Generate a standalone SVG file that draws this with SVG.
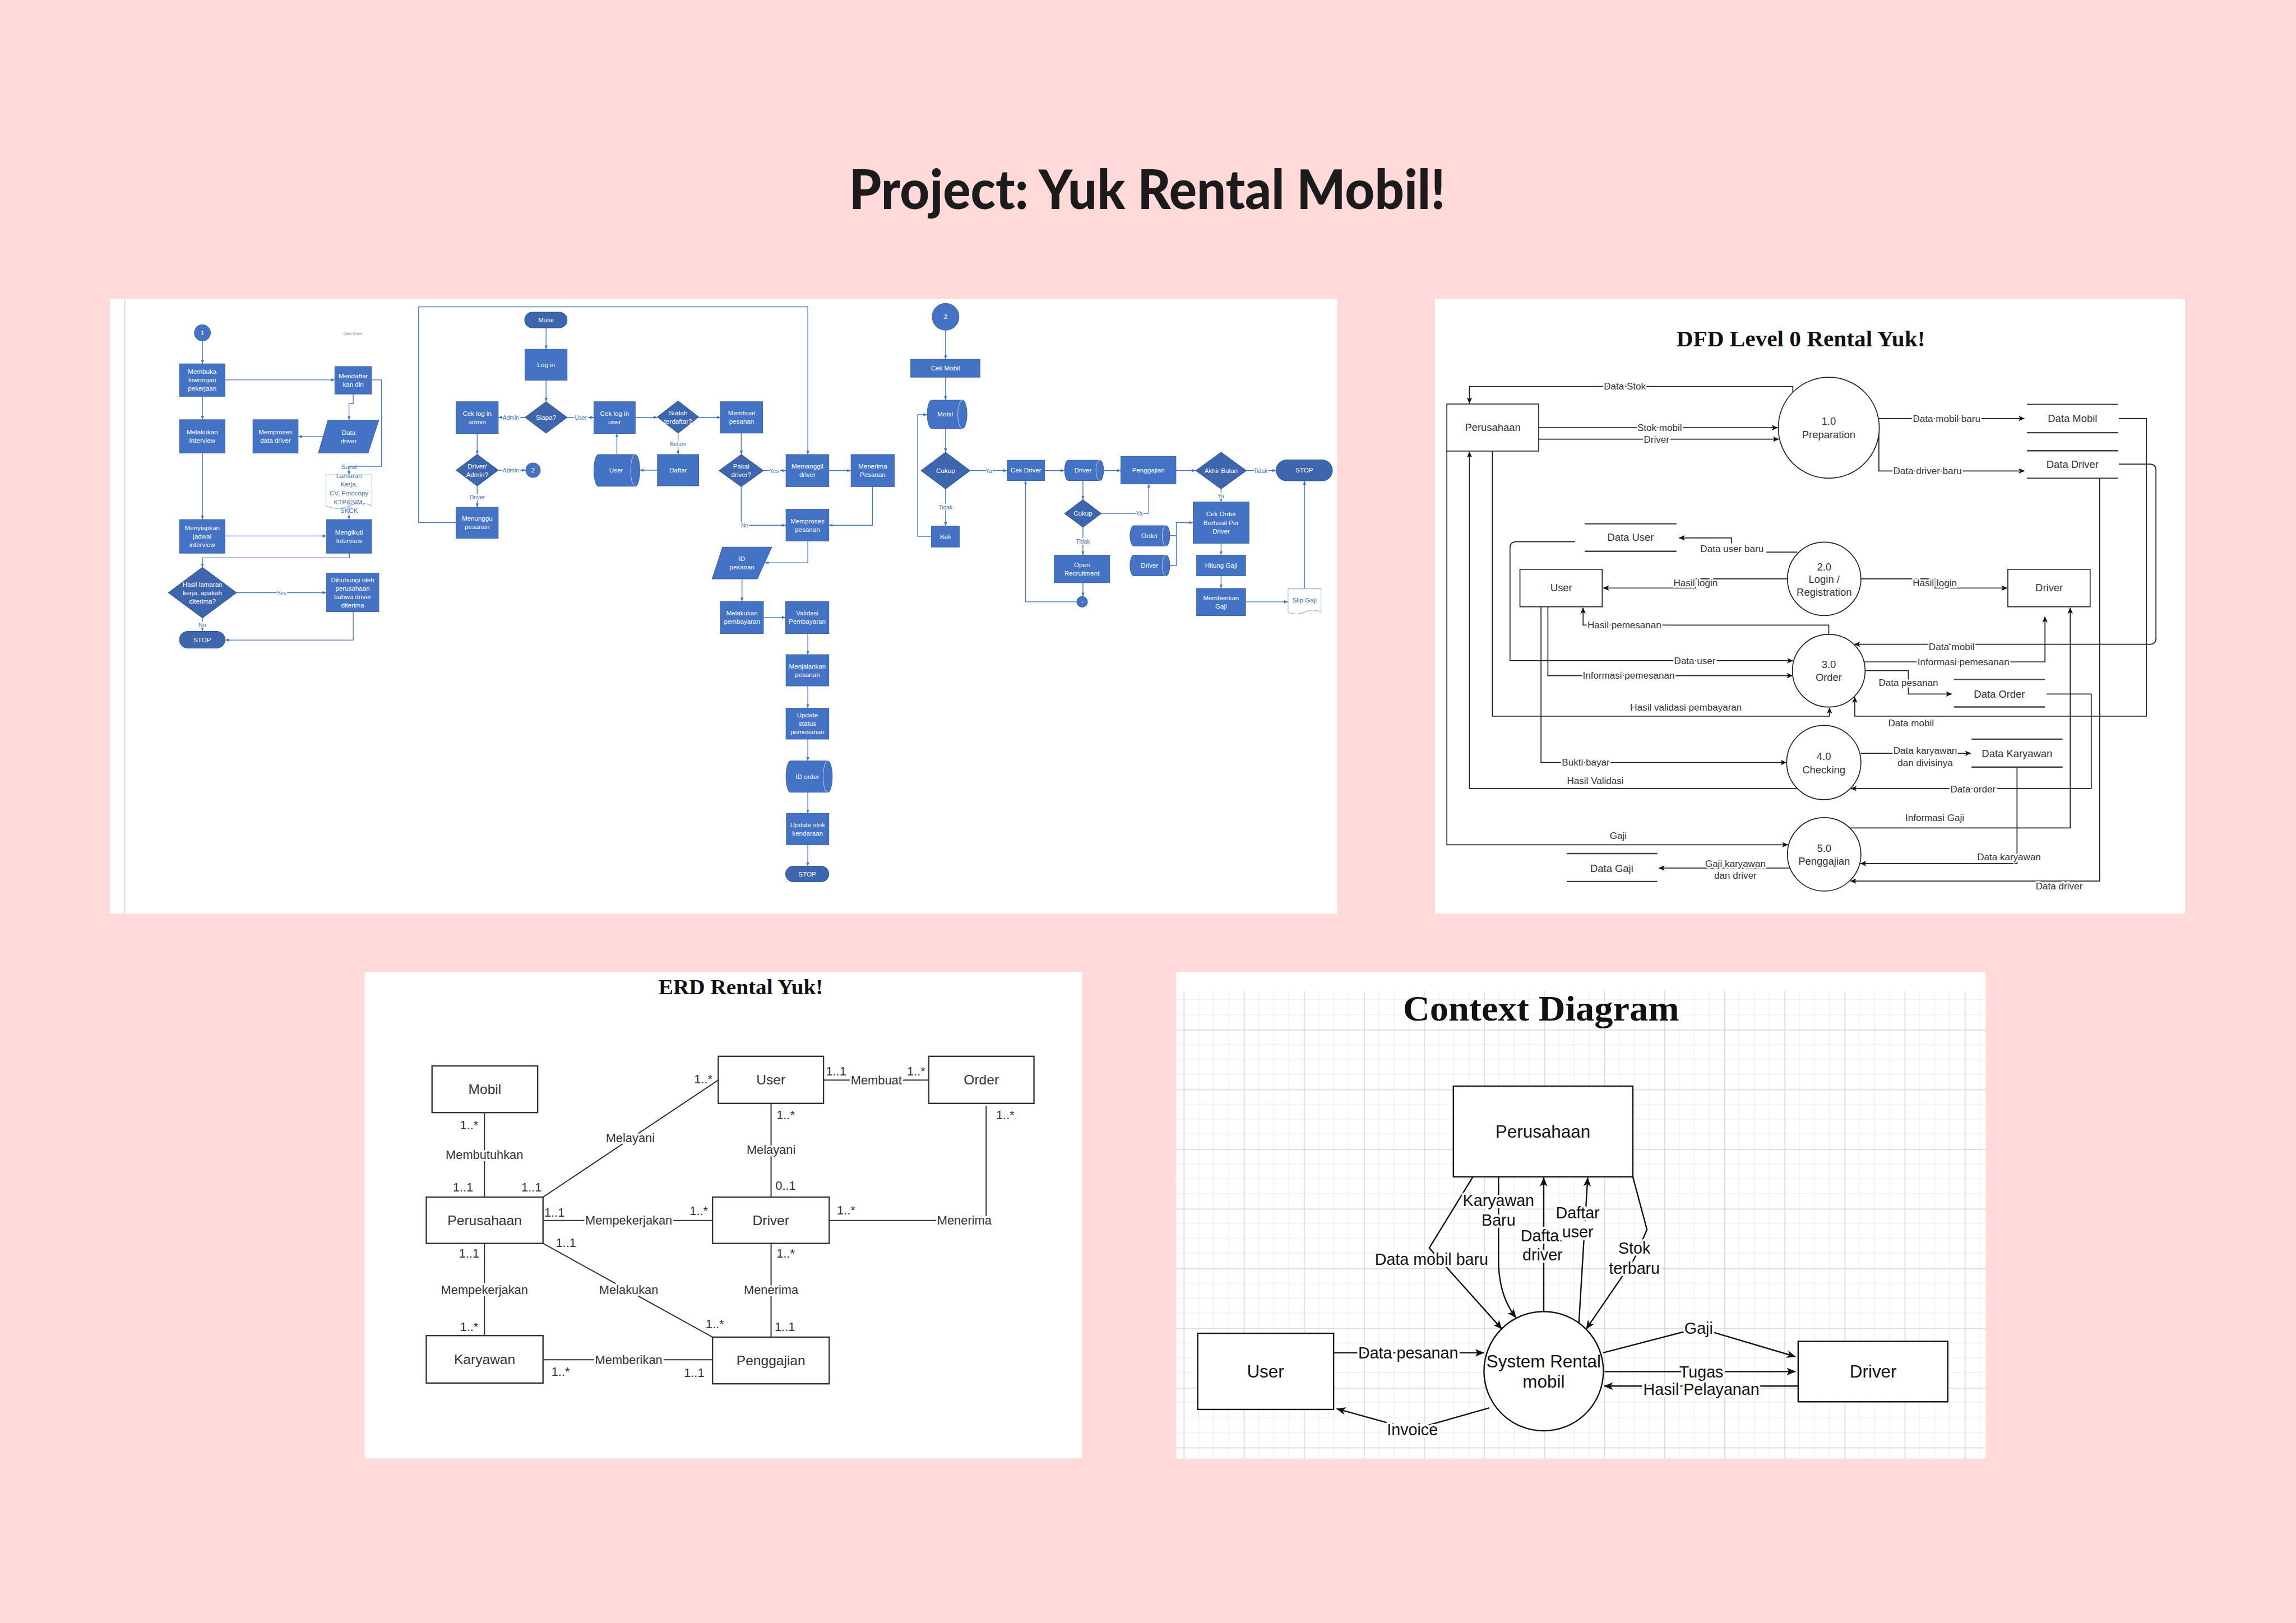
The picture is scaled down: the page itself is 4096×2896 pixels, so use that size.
<svg xmlns="http://www.w3.org/2000/svg" width="4096" height="2896" viewBox="0 0 4096 2896">
<defs>
<style>
.fb{fill:#4472C4;stroke:#3B62A8;stroke-width:1.5}
.fd{fill:#3E66AF;stroke:#2F5597;stroke-width:1.5}
.fw{fill:#fff;stroke:#8EA9DB;stroke-width:1.5}
.cyi{fill:none;stroke:#DAE3F3;stroke-width:1.2}
.ft{font-family:'Liberation Sans',Arial,sans-serif;font-size:17px;fill:#fff;text-anchor:middle}
.fbt{font-family:'Liberation Sans',Arial,sans-serif;font-size:17px;fill:#4472C4;text-anchor:middle}
.fl{fill:none;stroke:#4472C4;stroke-width:2;marker-end:url(#fa)}
.fn{fill:none;stroke:#4472C4;stroke-width:2}
.flt{font-family:'Liberation Sans',Arial,sans-serif;font-size:15px;fill:#4472C4;text-anchor:middle;paint-order:stroke;stroke:#fff;stroke-width:5px;stroke-linejoin:round}
.dn{fill:#fff;stroke:#222;stroke-width:2.5}
.ds{fill:none;stroke:#444;stroke-width:3.5}
.dl{fill:none;stroke:#222;stroke-width:2.5;marker-end:url(#da)}
.dln{fill:none;stroke:#222;stroke-width:2.5}
.dt{font-family:'Liberation Sans',Arial,sans-serif;font-size:27px;fill:#333;text-anchor:middle}
.dlt{font-family:'Liberation Sans',Arial,sans-serif;font-size:25px;fill:#333;text-anchor:middle;paint-order:stroke;stroke:#fff;stroke-width:8px;stroke-linejoin:round}
.en{fill:#fff;stroke:#333;stroke-width:3.5}
.el{fill:none;stroke:#333;stroke-width:3}
.et{font-family:'Liberation Sans',Arial,sans-serif;font-size:36px;fill:#333;text-anchor:middle}
.elt{font-family:'Liberation Sans',Arial,sans-serif;font-size:32px;fill:#333;text-anchor:middle;paint-order:stroke;stroke:#fff;stroke-width:10px;stroke-linejoin:round}
.ect{font-family:'Liberation Sans',Arial,sans-serif;font-size:32px;fill:#333;text-anchor:middle}
.cn{fill:#fff;stroke:#111;stroke-width:3.5}
.cl{fill:none;stroke:#111;stroke-width:3.5;marker-end:url(#ca)}
.ct{font-family:'Liberation Sans',Arial,sans-serif;font-size:46px;fill:#111;text-anchor:middle}
.clt{font-family:'Liberation Sans',Arial,sans-serif;font-size:42px;fill:#111;text-anchor:middle;paint-order:stroke;stroke:#fff;stroke-width:12px;stroke-linejoin:round}
.ttl{font-family:'Liberation Serif','Times New Roman',serif;font-weight:bold;fill:#111;text-anchor:middle}
</style>
<marker id="fa" viewBox="0 0 10 10" refX="10" refY="5" markerWidth="10" markerHeight="10" markerUnits="userSpaceOnUse" orient="auto"><path d="M0,1 L10,5 L0,9 z" fill="#4472C4"/></marker>
<marker id="da" viewBox="0 0 16 14" refX="15" refY="7" markerWidth="16" markerHeight="14" markerUnits="userSpaceOnUse" orient="auto"><path d="M0,0 L16,7 L0,14 L4,7 z" fill="#111"/></marker>
<marker id="ca" viewBox="0 0 24 20" refX="23" refY="10" markerWidth="24" markerHeight="20" markerUnits="userSpaceOnUse" orient="auto"><path d="M0,0 L24,10 L0,20 L6,10 z" fill="#111"/></marker>
<pattern id="grid" patternUnits="userSpaceOnUse" x="3093" y="2535" width="157" height="156">
<rect width="157" height="156" fill="#fff"/>
<path d="M39.25,0V156M78.5,0V156M117.75,0V156M0,39H157M0,78H157M0,117H157" stroke="#efefef" stroke-width="2"/>
<path d="M1,0V156M0,1H157" stroke="#dadada" stroke-width="3"/>
</pattern>
</defs>
<rect width="4096" height="2896" fill="#FFDAD8"/>
<g transform="scale(0.682667)">
<text x="2998" y="547" font-family="Lato,'Liberation Sans',sans-serif" font-weight="900" font-size="143" fill="#1b1b1b" text-anchor="middle" textLength="1558" lengthAdjust="spacingAndGlyphs">Project: Yuk Rental Mobil!</text>

<!-- ================= FLOWCHART ================= -->
<g id="flowchart">
<rect x="287" y="781" width="3207" height="1607" fill="#fff"/>
<line x1="326" y1="781" x2="326" y2="2388" stroke="#dcdcdc" stroke-width="3"/>
<g id="fc-connectors">
<path class="fl" d="M529,891V951"/>
<path class="fl" d="M588,993H875"/>
<path class="fl" d="M529,1036V1097"/>
<path class="fl" d="M923,1030V1055H912V1098"/>
<path class="fl" d="M845,1141H779"/>
<path class="fl" d="M971,993H997V1219H912V1241"/>
<path class="fl" d="M912,1322V1358"/>
<path class="fl" d="M529,1184V1358"/>
<path class="fl" d="M588,1401H853"/>
<path class="fl" d="M913,1446V1458H529V1483"/>
<path class="fl" d="M618,1549H853"/>
<path class="fl" d="M529,1615V1650"/>
<path class="fl" d="M923,1599V1673H588"/>
<path class="fl" d="M1427,857V913"/>
<path class="fl" d="M1427,994V1050"/>
<path class="fl" d="M1372,1091H1302"/>
<path class="fl" d="M1482,1091H1552"/>
<path class="fl" d="M1660,1091H1718"/>
<path class="fl" d="M1826,1091H1883"/>
<path class="fl" d="M1772,1132V1188"/>
<path class="fl" d="M1718,1229H1672"/>
<path class="fl" d="M1612,1188V1133"/>
<path class="fl" d="M1247,1133V1188"/>
<path class="fl" d="M1302,1229H1374"/>
<path class="fl" d="M1247,1270V1326"/>
<path class="fl" d="M1192,1366H1094V802H2111V1188"/>
<path class="fl" d="M1937,1132V1188"/>
<path class="fl" d="M1995,1230H2054"/>
<path class="fl" d="M2166,1230H2224"/>
<path class="fl" d="M2280,1272V1373H2166"/>
<path class="fl" d="M1937,1272V1373H2054"/>
<path class="fl" d="M2111,1414V1471H1999"/>
<path class="fl" d="M1939,1513V1572"/>
<path class="fl" d="M1995,1614H2053"/>
<path class="fl" d="M2111,1656V1711"/>
<path class="fl" d="M2111,1793V1851"/>
<path class="fl" d="M2111,1932V1989"/>
<path class="fl" d="M2111,2071V2126"/>
<path class="fl" d="M2111,2208V2264"/>
<path class="fl" d="M2471,863V939"/>
<path class="fl" d="M2471,986V1046"/>
<path class="fl" d="M2471,1120V1182"/>
<path class="fl" d="M2471,1278V1375"/>
<path class="fl" d="M2434,1402H2398V1084H2423"/>
<path class="fl" d="M2535,1230H2632"/>
<path class="fl" d="M2730,1230H2782"/>
<path class="fl" d="M2884,1230H2929"/>
<path class="fl" d="M3073,1230H3125"/>
<path class="fl" d="M3257,1230H3335"/>
<path class="fl" d="M3191,1278V1312"/>
<path class="fl" d="M2830,1256V1306"/>
<path class="fl" d="M2878,1342H3002V1265"/>
<path class="fl" d="M2830,1378V1451"/>
<path class="fl" d="M2830,1523V1559"/>
<path class="fl" d="M2814,1573H2680V1256"/>
<path class="fn" d="M3057,1400H3074"/>
<path class="fl" d="M3057,1478H3074V1366H3118"/>
<path class="fl" d="M3191,1420V1451"/>
<path class="fl" d="M3191,1505V1538"/>
<path class="fl" d="M3255,1573H3366"/>
<path class="fl" d="M3409,1539V1257"/>
<text class="flt" x="736" y="1555">Yes</text>
<text class="flt" x="529" y="1639">No</text>
<text class="flt" x="1335" y="1097">Admin</text>
<text class="flt" x="1518" y="1097">User</text>
<text class="flt" x="1772" y="1166">Belum</text>
<text class="flt" x="1335" y="1235">Admin</text>
<text class="flt" x="1247" y="1305">Driver</text>
<text class="flt" x="2023" y="1236">Yes</text>
<text class="flt" x="1946" y="1379">No</text>
<text class="flt" x="2471" y="1332">Tidak</text>
<text class="flt" x="2584" y="1236">Ya</text>
<text class="flt" x="3294" y="1236">Tidak</text>
<text class="flt" x="3191" y="1302">Ya</text>
<text class="flt" x="2977" y="1348">Ya</text>
<text class="flt" x="2830" y="1421">Tidak</text>
</g>
<text x="922" y="875" font-family="'Liberation Sans',Arial,sans-serif" font-size="9" fill="#4472C4" text-anchor="middle">Calon Driver</text>
<g id="fc-c1"><circle class="fb" cx="529" cy="870" r="21"/><text class="ft" x="529" y="876">1</text></g>
<g id="fc-membuka"><rect class="fb" x="469" y="951" width="119" height="85"/><text class="ft" x="528.5" y="977.5">Membuka<tspan x="528.5" dy="22">lowongan</tspan><tspan x="528.5" dy="22">pekerjaan</tspan></text></g>
<g id="fc-mendaftar"><rect class="fb" x="875" y="958" width="96" height="72"/><text class="ft" x="923" y="989">Mendaftar<tspan x="923" dy="22">kan diri</tspan></text></g>
<g id="fc-melakukan-interview"><rect class="fb" x="469" y="1097" width="119" height="87"/><text class="ft" x="528.5" y="1135.5">Melakukan<tspan x="528.5" dy="22">Interview</tspan></text></g>
<g id="fc-memproses-data"><rect class="fb" x="661" y="1097" width="118" height="87"/><text class="ft" x="720" y="1135.5">Memproses<tspan x="720" dy="22">data driver</tspan></text></g>
<g id="fc-data-driver"><polygon class="fb" points="857,1098 990,1098 962,1184 832,1184"/><text class="ft" x="911" y="1136">Data<tspan x="911" dy="22">driver</tspan></text></g>
<g id="fc-surat"><path class="fw" d="M852,1241H972V1322Q942,1308 912,1322T852,1322Z"/><text class="fbt" x="912" y="1226">Surat<tspan x="912" dy="23">Lamaran</tspan><tspan x="912" dy="23">Kerja,</tspan><tspan x="912" dy="23">CV, Fotocopy</tspan><tspan x="912" dy="23">KTP&amp;SIM,</tspan><tspan x="912" dy="23">SKCK</tspan></text></g>
<g id="fc-menyiapkan"><rect class="fb" x="469" y="1358" width="119" height="88"/><text class="ft" x="528.5" y="1386">Menyiapkan<tspan x="528.5" dy="22">jadwal</tspan><tspan x="528.5" dy="22">interview</tspan></text></g>
<g id="fc-mengikuti"><rect class="fb" x="853" y="1358" width="118" height="88"/><text class="ft" x="912" y="1397">Mengikuti<tspan x="912" dy="22">Interview</tspan></text></g>
<g id="fc-hasil"><polygon class="fd" points="529,1483 618,1549 529,1615 440,1549"/><text class="ft" x="529" y="1533">Hasil lamaran<tspan x="529" dy="22">kerja, apakah</tspan><tspan x="529" dy="22">diterima?</tspan></text></g>
<g id="fc-dihubungi"><rect class="fb" x="853" y="1498" width="137" height="101"/><text class="ft" x="921.5" y="1521.5">Dihubungi oleh<tspan x="921.5" dy="22">perusahaan</tspan><tspan x="921.5" dy="22">bahwa driver</tspan><tspan x="921.5" dy="22">diterima</tspan></text></g>
<g id="fc-stop1"><rect class="fd" x="469" y="1650" width="119" height="44" rx="22"/><text class="ft" x="528.5" y="1678">STOP</text></g>

<g id="fc-mulai"><rect class="fd" x="1371" y="816" width="111" height="41" rx="20.5"/><text class="ft" x="1426.5" y="842.5">Mulai</text></g>
<g id="fc-login"><rect class="fb" x="1372" y="913" width="110" height="81"/><text class="ft" x="1427" y="959.5">Log in</text></g>
<g id="fc-siapa"><polygon class="fd" points="1427,1050 1482,1091 1427,1132 1372,1091"/><text class="ft" x="1427" y="1097">Siapa?</text></g>
<g id="fc-cek-admin"><rect class="fb" x="1192" y="1050" width="110" height="83"/><text class="ft" x="1247" y="1086.5">Cek log in<tspan x="1247" dy="22">admin</tspan></text></g>
<g id="fc-cek-user"><rect class="fb" x="1552" y="1050" width="108" height="83"/><text class="ft" x="1606" y="1086.5">Cek log in<tspan x="1606" dy="22">user</tspan></text></g>
<g id="fc-sudah"><polygon class="fd" points="1772,1048 1826,1090 1772,1132 1718,1090"/><text class="ft" x="1772" y="1085">Sudah<tspan x="1772" dy="22">terdaftar?</tspan></text></g>
<g id="fc-daftar"><rect class="fb" x="1718" y="1188" width="108" height="82"/><text class="ft" x="1772" y="1235">Daftar</text></g>
<g id="fc-user-db"><path class="fb" d="M1564,1188H1660A12,41.5 0 0 1 1660,1271H1564A12,41.5 0 0 1 1564,1188Z"/><path class="cyi" d="M1660,1188A12,41.5 0 0 0 1660,1271"/><text class="ft" x="1610" y="1235">User</text></g>
<g id="fc-driver-admin"><polygon class="fd" points="1247,1188 1302,1229 1247,1270 1192,1229"/><text class="ft" x="1247" y="1224">Driver/<tspan x="1247" dy="22">Admin?</tspan></text></g>
<g id="fc-c2a"><circle class="fb" cx="1393" cy="1229" r="19"/><text class="ft" x="1393" y="1235">2</text></g>
<g id="fc-menunggu"><rect class="fb" x="1192" y="1326" width="110" height="81"/><text class="ft" x="1247" y="1361.5">Menunggu<tspan x="1247" dy="22">pesanan</tspan></text></g>
<g id="fc-membuat"><rect class="fb" x="1883" y="1050" width="110" height="82"/><text class="ft" x="1938" y="1086">Membuat<tspan x="1938" dy="22">pesanan</tspan></text></g>
<g id="fc-pakai"><polygon class="fd" points="1937,1188 1995,1230 1937,1272 1879,1230"/><text class="ft" x="1937" y="1225">Pakai<tspan x="1937" dy="22">driver?</tspan></text></g>
<g id="fc-memanggil"><rect class="fb" x="2054" y="1188" width="112" height="84"/><text class="ft" x="2110" y="1225">Memanggil<tspan x="2110" dy="22">driver</tspan></text></g>
<g id="fc-menerima"><rect class="fb" x="2224" y="1188" width="113" height="84"/><text class="ft" x="2280.5" y="1225">Menerima<tspan x="2280.5" dy="22">Pesanan</tspan></text></g>
<g id="fc-memproses"><rect class="fb" x="2054" y="1331" width="112" height="83"/><text class="ft" x="2110" y="1367.5">Memproses<tspan x="2110" dy="22">pesanan</tspan></text></g>
<g id="fc-id-pesanan"><polygon class="fb" points="1888,1430 2017,1430 1979,1513 1861,1513"/><text class="ft" x="1939" y="1466.5">ID<tspan x="1939" dy="22">pesanan</tspan></text></g>
<g id="fc-pembayaran"><rect class="fb" x="1883" y="1572" width="112" height="84"/><text class="ft" x="1939" y="1609">Melakukan<tspan x="1939" dy="22">pembayaran</tspan></text></g>
<g id="fc-validasi"><rect class="fb" x="2053" y="1572" width="113" height="84"/><text class="ft" x="2109.5" y="1609">Validasi<tspan x="2109.5" dy="22">Pembayaran</tspan></text></g>
<g id="fc-menjalankan"><rect class="fb" x="2054" y="1711" width="112" height="82"/><text class="ft" x="2110" y="1747">Menjalankan<tspan x="2110" dy="22">pesanan</tspan></text></g>
<g id="fc-update-status"><rect class="fb" x="2054" y="1851" width="112" height="81"/><text class="ft" x="2110" y="1875.5">Update<tspan x="2110" dy="22">status</tspan><tspan x="2110" dy="22">pemesanan</tspan></text></g>
<g id="fc-id-order"><path class="fb" d="M2066,1989H2163A12,41 0 0 1 2163,2071H2066A12,41 0 0 1 2066,1989Z"/><path class="cyi" d="M2163,1989A12,41 0 0 0 2163,2071"/><text class="ft" x="2110" y="2036">ID order</text></g>
<g id="fc-update-stok"><rect class="fb" x="2055" y="2126" width="111" height="82"/><text class="ft" x="2110.5" y="2162">Update stok<tspan x="2110.5" dy="22">kendaraan</tspan></text></g>
<g id="fc-stop2"><rect class="fd" x="2053" y="2264" width="113" height="41" rx="20.5"/><text class="ft" x="2109.5" y="2290.5">STOP</text></g>

<g id="fc-c2b"><circle class="fb" cx="2471" cy="828" r="35"/><text class="ft" x="2471" y="834">2</text></g>
<g id="fc-cek-mobil"><rect class="fb" x="2380" y="939" width="181" height="47"/><text class="ft" x="2470.5" y="968.5">Cek Mobil</text></g>
<g id="fc-mobil-db"><path class="fb" d="M2435,1046H2515A12,37 0 0 1 2515,1120H2435A12,37 0 0 1 2435,1046Z"/><path class="cyi" d="M2515,1046A12,37 0 0 0 2515,1120"/><text class="ft" x="2470" y="1089">Mobil</text></g>
<g id="fc-cukup1"><polygon class="fd" points="2471,1182 2535,1230 2471,1278 2407,1230"/><text class="ft" x="2471" y="1236">Cukup</text></g>
<g id="fc-beli"><rect class="fb" x="2434" y="1375" width="73" height="55"/><text class="ft" x="2470.5" y="1408.5">Beli</text></g>
<g id="fc-cek-driver"><rect class="fb" x="2632" y="1203" width="98" height="53"/><text class="ft" x="2681" y="1235.5">Cek Driver</text></g>
<g id="fc-driver-db"><path class="fb" d="M2792,1203H2874A10,26.5 0 0 1 2874,1256H2792A10,26.5 0 0 1 2792,1203Z"/><path class="cyi" d="M2874,1203A10,26.5 0 0 0 2874,1256"/><text class="ft" x="2830" y="1235.5">Driver</text></g>
<g id="fc-penggajian"><rect class="fb" x="2929" y="1193" width="144" height="72"/><text class="ft" x="3001" y="1235">Penggajian</text></g>
<g id="fc-akhir"><polygon class="fd" points="3191,1182 3257,1230 3191,1278 3125,1230"/><text class="ft" x="3191" y="1236">Akhir Bulan</text></g>
<g id="fc-stop3"><rect class="fd" x="3335" y="1202" width="147" height="55" rx="27.5"/><text class="ft" x="3408.5" y="1235.5">STOP</text></g>
<g id="fc-cukup2"><polygon class="fd" points="2830,1306 2878,1342 2830,1378 2782,1342"/><text class="ft" x="2830" y="1348">Cukup</text></g>
<g id="fc-open-rec"><rect class="fb" x="2755" y="1451" width="145" height="72"/><text class="ft" x="2827.5" y="1482">Open<tspan x="2827.5" dy="22">Recruitment</tspan></text></g>
<g id="fc-c3"><circle class="fb" cx="2828" cy="1573" r="14"/><text x="2828" y="1576" font-family="'Liberation Sans',Arial,sans-serif" font-size="9" fill="#fff" text-anchor="middle">1</text></g>
<g id="fc-cek-order"><rect class="fb" x="3118" y="1312" width="146" height="108"/><text class="ft" x="3191" y="1349">Cek Order<tspan x="3191" dy="23">Berhasil Per</tspan><tspan x="3191" dy="23">Driver</tspan></text></g>
<g id="fc-order-db"><path class="fb" d="M2963,1374H3047A10,26.5 0 0 1 3047,1427H2963A10,26.5 0 0 1 2963,1374Z"/><path class="cyi" d="M3047,1374A10,26.5 0 0 0 3047,1427"/><text class="ft" x="3004" y="1406.5">Order</text></g>
<g id="fc-driver2-db"><path class="fb" d="M2963,1451H3047A10,27 0 0 1 3047,1505H2963A10,27 0 0 1 2963,1451Z"/><path class="cyi" d="M3047,1451A10,27 0 0 0 3047,1505"/><text class="ft" x="3004" y="1484">Driver</text></g>
<g id="fc-hitung"><rect class="fb" x="3127" y="1451" width="128" height="54"/><text class="ft" x="3191" y="1484">Hitung Gaji</text></g>
<g id="fc-memberikan"><rect class="fb" x="3127" y="1538" width="128" height="71"/><text class="ft" x="3191" y="1568.5">Memberikan<tspan x="3191" dy="22">Gaji</tspan></text></g>
<g id="fc-slip"><path class="fw" d="M3366,1539H3452V1600Q3430,1590 3409,1600T3366,1600Z"/><text class="fbt" x="3409" y="1574">Slip Gaji</text></g>
</g>

<!-- ================= DFD ================= -->
<g id="dfd">
<rect x="3750" y="781" width="1960" height="1607" fill="#fff"/>
<text class="ttl" x="4706" y="905" font-size="60" textLength="650" lengthAdjust="spacingAndGlyphs">DFD Level 0 Rental Yuk!</text>
<g id="dfd-connectors">
<path class="dl" d="M4685,1025V1010H3840V1054"/>
<path class="dl" d="M4021,1118H4645"/>
<path class="dl" d="M4021,1148H4648"/>
<path class="dl" d="M4910,1094H5290"/>
<path class="dl" d="M4910,1130V1231H5290"/>
<path class="dl" d="M5537,1094H5609V1872H4847V1822"/>
<path class="dl" d="M5537,1213H5618Q5634,1213 5634,1229V1668Q5634,1684 5618,1684H4846"/>
<path class="dl" d="M5487,1250V2303H4836"/>
<path class="dln" d="M4697,1443H4616"/>
<path class="dl" d="M4525,1420V1406H4388"/>
<path class="dl" d="M4672,1513H4431V1537H4190"/>
<path class="dl" d="M4862,1513H5056V1537H5245"/>
<path class="dl" d="M4779,1658V1634H4137V1589"/>
<path class="dl" d="M4116,1416H3962Q3946,1416 3946,1432V1727H4685"/>
<path class="dl" d="M4045,1586V1766H4684"/>
<path class="dl" d="M4027,1586V1993H4668"/>
<path class="dl" d="M3900,1179V1872H4781V1850"/>
<path class="dl" d="M4871,1730H5344V1612"/>
<path class="dl" d="M4874,1753H4987V1814H5100"/>
<path class="dl" d="M4863,1969H5150"/>
<path class="dl" d="M5348,1814H5465V2061H4837"/>
<path class="dl" d="M4697,2061H3840V1181"/>
<path class="dl" d="M4834,2164H5410V1589"/>
<path class="dl" d="M3781,1179V2208H4672"/>
<path class="dl" d="M5271,2005V2257H4862"/>
<path class="dl" d="M4678,2269H4335"/>
<text class="dlt" x="4246" y="1018.5">Data Stok</text>
<text class="dlt" x="4337" y="1126.5">Stok mobil</text>
<text class="dlt" x="4329" y="1156.5">Driver</text>
<text class="dlt" x="5087" y="1102.5">Data mobil baru</text>
<text class="dlt" x="5037" y="1239.5">Data driver baru</text>
<text class="dlt" x="4526" y="1442.5">Data user baru</text>
<text class="dlt" x="4431" y="1532.5">Hasil login</text>
<text class="dlt" x="5056" y="1532.5">Hasil login</text>
<text class="dlt" x="4245" y="1642.5">Hasil pemesanan</text>
<text class="dlt" x="5100" y="1699.5">Data mobil</text>
<text class="dlt" x="4429" y="1735.5">Data user</text>
<text class="dlt" x="4256" y="1774.5">Informasi pemesanan</text>
<text class="dlt" x="5131" y="1738.5">Informasi pemesanan</text>
<text class="dlt" x="4987" y="1793.5">Data pesanan</text>
<text class="dlt" x="4406" y="1857.5">Hasil validasi pembayaran</text>
<text class="dlt" x="4994" y="1898.5">Data mobil</text>
<text class="dlt" x="5031" y="1970.5">Data karyawan</text>
<text class="dlt" x="5031" y="2002.5">dan divisinya</text>
<text class="dlt" x="4144" y="2001.5">Bukti bayar</text>
<text class="dlt" x="4169" y="2049.5">Hasil Validasi</text>
<text class="dlt" x="5156" y="2071.5">Data order</text>
<text class="dlt" x="5056" y="2145.5">Informasi Gaji</text>
<text class="dlt" x="4229" y="2192.5">Gaji</text>
<text class="dlt" x="5250" y="2248.5">Data karyawan</text>
<text class="dlt" x="4535" y="2265.5">Gaji karyawan</text>
<text class="dlt" x="4535" y="2297.5">dan driver</text>
<text class="dlt" x="5381" y="2324.5">Data driver</text>
</g>
<g id="dfd-perusahaan"><rect class="dn" x="3781" y="1056" width="240" height="123"/><text class="dt" x="3901" y="1127">Perusahaan</text></g>
<g id="dfd-p1"><circle class="dn" cx="4779" cy="1118" r="132"/><text class="dt" x="4779" y="1111">1.0<tspan x="4779" dy="34">Preparation</tspan></text></g>
<g id="dfd-data-mobil"><path class="ds" d="M5297,1057H5535M5297,1131H5535"/><text class="dt" x="5416" y="1103">Data Mobil</text></g>
<g id="dfd-data-driver"><path class="ds" d="M5297,1178H5535M5297,1250H5535"/><text class="dt" x="5416" y="1223">Data Driver</text></g>
<g id="dfd-data-user"><path class="ds" d="M4141,1369H4381M4141,1441H4381"/><text class="dt" x="4261" y="1414">Data User</text></g>
<g id="dfd-user"><rect class="dn" x="3972" y="1488" width="215" height="98"/><text class="dt" x="4080" y="1546">User</text></g>
<g id="dfd-p2"><circle class="dn" cx="4767" cy="1513" r="96"/><text class="dt" x="4767" y="1491">2.0<tspan x="4767" dy="33">Login /</tspan><tspan x="4767" dy="33">Registration</tspan></text></g>
<g id="dfd-driver"><rect class="dn" x="5247" y="1488" width="215" height="98"/><text class="dt" x="5355" y="1546">Driver</text></g>
<g id="dfd-p3"><circle class="dn" cx="4779" cy="1753" r="95"/><text class="dt" x="4779" y="1746">3.0<tspan x="4779" dy="34">Order</tspan></text></g>
<g id="dfd-data-order"><path class="ds" d="M5106,1776H5344M5106,1848H5344"/><text class="dt" x="5225" y="1823">Data Order</text></g>
<g id="dfd-p4"><circle class="dn" cx="4766" cy="1993" r="97"/><text class="dt" x="4766" y="1986">4.0<tspan x="4766" dy="35">Checking</tspan></text></g>
<g id="dfd-data-karyawan"><path class="ds" d="M5152,1932H5390M5152,2005H5390"/><text class="dt" x="5271" y="1979">Data Karyawan</text></g>
<g id="dfd-p5"><circle class="dn" cx="4767" cy="2233" r="96"/><text class="dt" x="4767" y="2226">5.0<tspan x="4767" dy="34">Penggajian</tspan></text></g>
<g id="dfd-data-gaji"><path class="ds" d="M4094,2231H4331M4094,2304H4331"/><text class="dt" x="4212" y="2279">Data Gaji</text></g>
</g>

<!-- ================= ERD ================= -->
<g id="erd">
<rect x="953" y="2541" width="1875" height="1271" fill="#fff"/>
<text class="ttl" x="1936" y="2598" font-size="54" textLength="430" lengthAdjust="spacingAndGlyphs">ERD Rental Yuk!</text>
<g id="erd-connectors">
<path class="el" d="M1266,2908V3129"/>
<path class="el" d="M1419,3129L1877,2823"/>
<path class="el" d="M2152,2823H2427"/>
<path class="el" d="M2015,2884V3129"/>
<path class="el" d="M2577,2890V3190H2167"/>
<path class="el" d="M1419,3190H1862"/>
<path class="el" d="M1419,3250L1862,3495"/>
<path class="el" d="M1266,3250V3491"/>
<path class="el" d="M2015,3250V3495"/>
<path class="el" d="M1419,3554H1862"/>
<text class="elt" x="1266" y="3029">Membutuhkan</text>
<text class="elt" x="1647" y="2986">Melayani</text>
<text class="elt" x="2290" y="2834">Membuat</text>
<text class="elt" x="2015" y="3016">Melayani</text>
<text class="elt" x="2520" y="3201">Menerima</text>
<text class="elt" x="1643" y="3201">Mempekerjakan</text>
<text class="elt" x="1643" y="3383">Melakukan</text>
<text class="elt" x="1266" y="3383">Mempekerjakan</text>
<text class="elt" x="2015" y="3383">Menerima</text>
<text class="elt" x="1643" y="3565">Memberikan</text>
<text class="ect" x="1226" y="2951">1..*</text>
<text class="ect" x="1210" y="3114">1..1</text>
<text class="ect" x="1389" y="3114">1..1</text>
<text class="ect" x="1838" y="2832">1..*</text>
<text class="ect" x="2185" y="2811">1..1</text>
<text class="ect" x="2394" y="2811">1..*</text>
<text class="ect" x="2053" y="2926">1..*</text>
<text class="ect" x="2053" y="3110">0..1</text>
<text class="ect" x="2627" y="2926">1..*</text>
<text class="ect" x="2211" y="3175">1..*</text>
<text class="ect" x="1449" y="3180">1..1</text>
<text class="ect" x="1826" y="3176">1..*</text>
<text class="ect" x="1479" y="3260">1..1</text>
<text class="ect" x="1868" y="3472">1..*</text>
<text class="ect" x="1226" y="3287">1..1</text>
<text class="ect" x="1226" y="3479">1..*</text>
<text class="ect" x="2053" y="3287">1..*</text>
<text class="ect" x="2051" y="3479">1..1</text>
<text class="ect" x="1465" y="3596">1..*</text>
<text class="ect" x="1814" y="3599">1..1</text>
</g>
<g id="erd-mobil"><rect class="en" x="1129" y="2786" width="276" height="122"/><text class="et" x="1267" y="2860">Mobil</text></g>
<g id="erd-user"><rect class="en" x="1877" y="2761" width="275" height="123"/><text class="et" x="2014.5" y="2835">User</text></g>
<g id="erd-order"><rect class="en" x="2427" y="2761" width="275" height="123"/><text class="et" x="2564.5" y="2835">Order</text></g>
<g id="erd-perusahaan"><rect class="en" x="1114" y="3129" width="305" height="121"/><text class="et" x="1266.5" y="3202">Perusahaan</text></g>
<g id="erd-driver"><rect class="en" x="1862" y="3129" width="305" height="121"/><text class="et" x="2014.5" y="3202">Driver</text></g>
<g id="erd-karyawan"><rect class="en" x="1114" y="3491" width="305" height="124"/><text class="et" x="1266.5" y="3566">Karyawan</text></g>
<g id="erd-penggajian"><rect class="en" x="1862" y="3495" width="305" height="122"/><text class="et" x="2014.5" y="3569">Penggajian</text></g>
</g>

<!-- ================= CONTEXT DIAGRAM ================= -->
<g id="context">
<rect x="3073" y="2541" width="2116" height="1271" fill="#fff"/>
<rect x="3073" y="2590" width="2116" height="1222" fill="url(#grid)"/>
<text class="ttl" x="4027" y="2667" font-size="92" textLength="722" lengthAdjust="spacingAndGlyphs">Context Diagram</text>
<g id="ctx-connectors">
<path class="cl" d="M3849,3076L3735,3262L3925,3474"/>
<path class="cl" d="M3916,3076V3300Q3918,3390 3962,3444"/>
<path class="cl" d="M4034,3428V3078"/>
<path class="cl" d="M4126,3458L4149,3078"/>
<path class="cl" d="M4267,3076L4304,3214L4271,3290L4145,3474"/>
<path class="cl" d="M3485,3536H3878"/>
<path class="cl" d="M3892,3680L3691,3737L3493,3682"/>
<path class="cl" d="M4189,3536L4439,3471L4692,3546"/>
<path class="cl" d="M4193,3585H4692"/>
<path class="cl" d="M4699,3623H4192"/>
<text class="clt" x="3741" y="3306">Data mobil baru</text>
<text class="clt" x="3916" y="3153">Karyawan<tspan x="3916" dy="51">Baru</tspan></text>
<text class="clt" x="4031" y="3245">Daftar<tspan x="4031" dy="49">driver</tspan></text>
<rect x="4076" y="3192" width="94" height="50" fill="#fff"/>
<text class="clt" x="4123" y="3184">Daftar<tspan x="4123" dy="51">user</tspan></text>
<text class="clt" x="4271" y="3277">Stok<tspan x="4271" dy="53">terbaru</tspan></text>
<text class="clt" x="3680" y="3551">Data pesanan</text>
<text class="clt" x="3691" y="3752">Invoice</text>
<text class="clt" x="4439" y="3486">Gaji</text>
<text class="clt" x="4446" y="3600">Tugas</text>
<text class="clt" x="4446" y="3646">Hasil Pelayanan</text>
</g>
<g id="ctx-perusahaan"><rect class="cn" x="3798" y="2839" width="469" height="237"/><text class="ct" x="4032" y="2973">Perusahaan</text></g>
<g id="ctx-system"><circle class="cn" cx="4034" cy="3584" r="156"/><text class="ct" x="4034" y="3574">System Rental<tspan x="4034" dy="53">mobil</tspan></text></g>
<g id="ctx-user"><rect class="cn" x="3130" y="3485" width="355" height="199"/><text class="ct" x="3307" y="3600">User</text></g>
<g id="ctx-driver"><rect class="cn" x="4699" y="3506" width="391" height="158"/><text class="ct" x="4895" y="3601">Driver</text></g>
</g>
</g>
</svg>
